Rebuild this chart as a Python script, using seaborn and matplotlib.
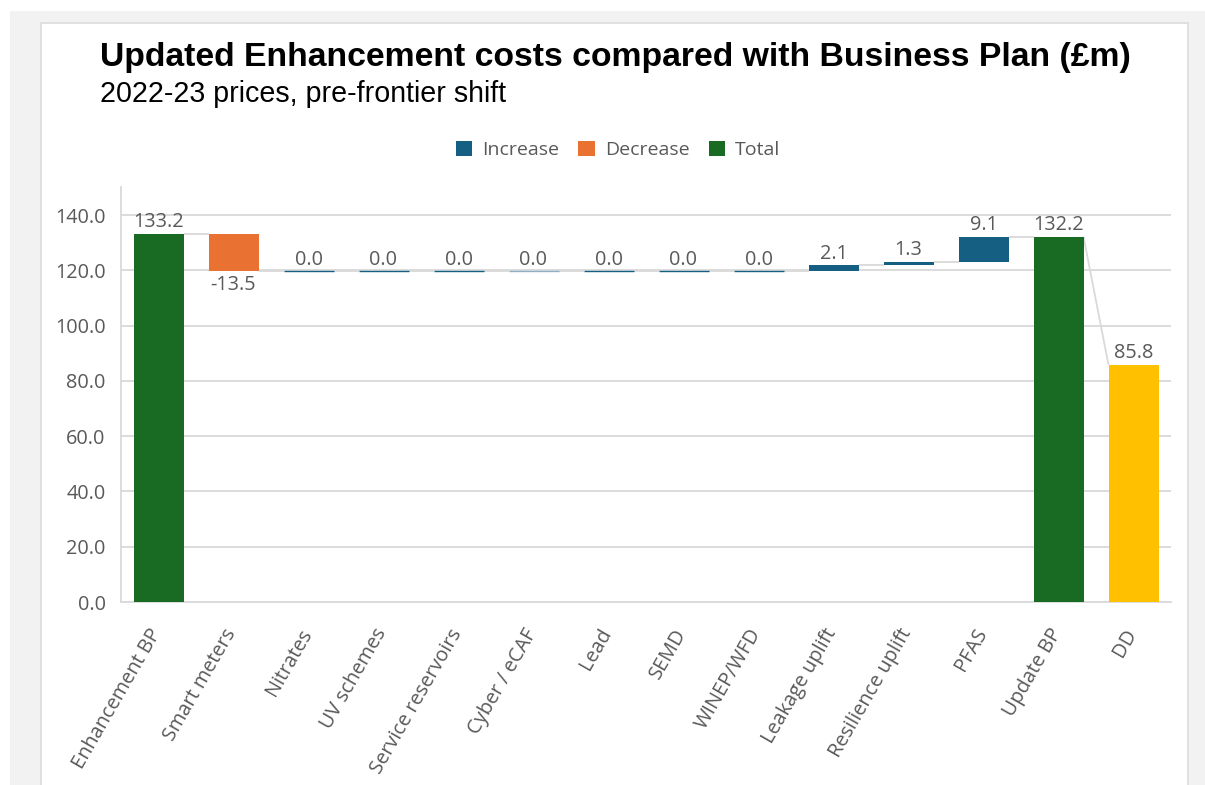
import matplotlib
matplotlib.use("Agg")
import matplotlib.pyplot as plt
import matplotlib.transforms as mtransforms
import seaborn as sns
import numpy as np
import pandas as pd
from matplotlib.patches import Rectangle, Patch

categories = ["Enhancement BP", "Smart meters", "Nitrates", "UV schemes",
              "Service reservoirs", "Cyber / eCAF", "Lead", "SEMD", "WINEP/WFD",
              "Leakage uplift", "Resilience uplift", "PFAS", "Update BP", "DD"]
values = [133.2, -13.5, 0.0, 0.0, 0.0, 0.0, 0.0, 0.0, 0.0, 2.1, 1.3, 9.1, 132.2, 85.8]
kinds = ["Total", "Decrease", "Increase", "Increase", "Increase", "Increase",
         "Increase", "Increase", "Increase", "Increase", "Increase", "Increase",
         "Total", "DD"]
yticks = [0, 20, 40, 60, 80, 100, 120, 140]

title = "Updated Enhancement costs compared with Business Plan (£m)"
subtitle = "2022-23 prices, pre-frontier shift"

palette = {"Increase": "#156082", "Decrease": "#E97132", "Total": "#196B24", "DD": "#FFC000"}
TXT = "#595959"
GRID = "#d9d9d9"
FONT = ["Open Sans", "DejaVu Sans"]
FS = 14.3

# waterfall geometry
bottoms, tops, starts, ends = [], [], [], []
running = 0.0
for v, k in zip(values, kinds):
    if k in ("Total", "DD"):
        bottoms.append(0.0); tops.append(v); starts.append(v); ends.append(v)
        running = v
    else:
        s, e = running, running + v
        bottoms.append(min(s, e)); tops.append(max(s, e)); starts.append(s); ends.append(e)
        running = e
heights = [t - b for t, b in zip(tops, bottoms)]

df = pd.DataFrame({"category": categories, "height": heights, "kind": kinds})

W, H = 1205, 785
fig = plt.figure(figsize=(W / 100, H / 100), dpi=100, facecolor="white")
fig.patches.append(Rectangle((10 / W, 0), 1, 1 - 11 / H, transform=fig.transFigure,
                             facecolor="#f2f2f2", edgecolor="none", zorder=-20))
fig.patches.append(Rectangle((41 / W, -0.01), (1188 - 41) / W, 1 - 23 / H + 0.01,
                             transform=fig.transFigure, facecolor="white",
                             edgecolor="#dcdcdc", linewidth=1.2, zorder=-19))

ax = fig.add_axes([121 / W, 1 - 602 / H, 1050 / W, (602 - 187.4) / H])
ax.set_facecolor("white")

bw = 50 / 75
sns.barplot(data=df, x="category", y="height", hue="kind", palette=palette,
            order=categories, dodge=False, width=bw, legend=False, ax=ax,
            saturation=1, zorder=3)

for p in ax.patches:
    idx = int(round(p.get_x() + p.get_width() / 2))
    p.set_y(bottoms[idx])
    p.set_height(heights[idx])
    if heights[idx] == 0:
        col = "#8fb0c4" if categories[idx] == "Cyber / eCAF" else palette[kinds[idx]]
        p.set_edgecolor(col)
        p.set_facecolor(col)
        p.set_linewidth(1.0)

# connectors
for i in range(len(values) - 1):
    ax.plot([i + bw / 2, i + 1 - bw / 2], [ends[i], starts[i + 1]],
            color=GRID, linewidth=1.3, zorder=2, solid_capstyle="butt")

# value labels
for i, (v, k) in enumerate(zip(values, kinds)):
    if v < 0:
        ax.annotate(f"{v:.1f}", (i, bottoms[i]), xytext=(0, -3), textcoords="offset points",
                    ha="center", va="top", color=TXT, fontsize=FS, family=FONT)
    else:
        ax.annotate(f"{v:.1f}", (i, tops[i]), xytext=(0, 1), textcoords="offset points",
                    ha="center", va="bottom", color=TXT, fontsize=FS, family=FONT)

ax.set_ylim(0, 150)
ax.set_xlim(-0.5, len(categories) - 0.5)
ax.set_yticks(yticks)
ax.set_yticklabels([f"{t:.1f}" for t in yticks], color=TXT, fontsize=FS, family=FONT)
ax.yaxis.grid(True, color=GRID, linewidth=1.3, zorder=0)
ax.set_axisbelow(True)
ax.tick_params(axis="both", length=0)
ax.tick_params(axis="y", pad=11)
ax.set_xticks(range(len(categories)))
ax.set_xticklabels(categories, rotation=60, ha="right", va="baseline", rotation_mode="anchor",
                   color=TXT, fontsize=FS, family=FONT)
ax.tick_params(axis="x", pad=22)
offset = mtransforms.ScaledTranslation(3 / 100, 0, fig.dpi_scale_trans)
for lab in ax.get_xticklabels():
    lab.set_transform(lab.get_transform() + offset)
ax.set_xlabel("")
ax.set_ylabel("")
for s in ["top", "right"]:
    ax.spines[s].set_visible(False)
ax.spines["left"].set_color(GRID)
ax.spines["bottom"].set_color(GRID)
ax.spines["left"].set_linewidth(1.3)
ax.spines["bottom"].set_linewidth(1.3)

fig.text(100 / W, 1 - 66 / H, title, fontsize=24.3, fontweight="bold",
         family=["Liberation Sans", "DejaVu Sans"], color="black", va="baseline")
fig.text(100 / W, 1 - 102 / H, subtitle, fontsize=20.6,
         family=["Liberation Sans", "DejaVu Sans"], color="black", va="baseline")

handles = [Patch(facecolor=palette[k], edgecolor="none") for k in ["Increase", "Decrease", "Total"]]
leg = fig.legend(handles, ["Increase", "Decrease", "Total"], loc="center",
                 bbox_to_anchor=(618 / W, 1 - 150 / H), ncol=3, frameon=False,
                 handlelength=0.85, handleheight=0.85, handletextpad=0.5,
                 columnspacing=1.0, prop={"family": FONT, "size": 14})
for t in leg.get_texts():
    t.set_color(TXT)

fig.savefig("out.png", dpi=100, facecolor="white")
